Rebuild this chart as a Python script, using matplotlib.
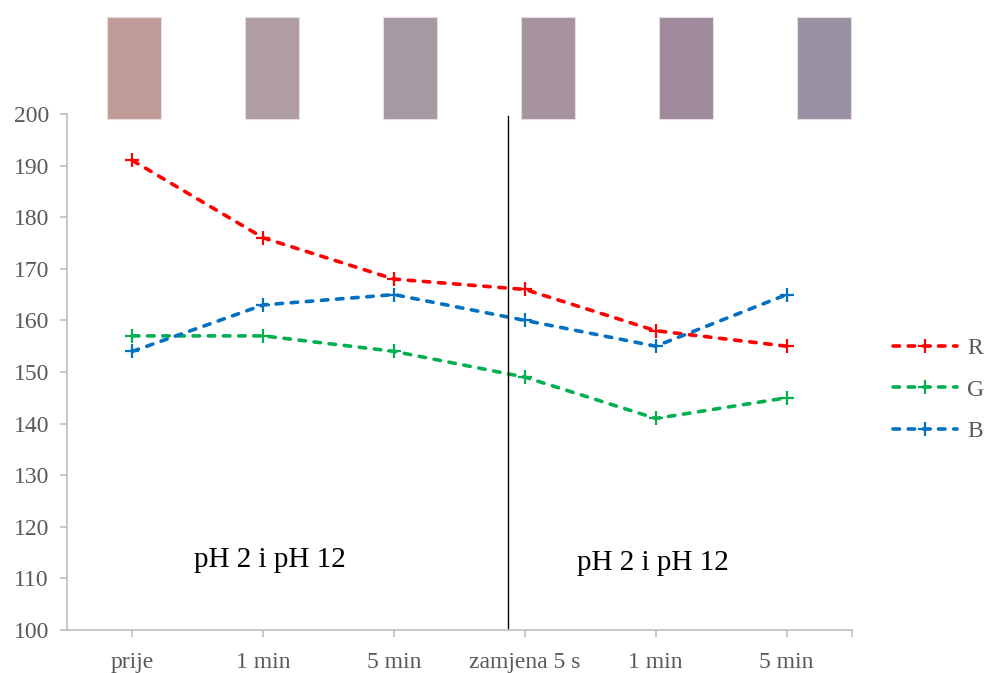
import matplotlib.pyplot as plt
import matplotlib.patches as patches

categories = ['prije', '1 min', '5 min', 'zamjena 5 s', '1 min', '5 min']
r_vals = [191, 176, 168, 166, 158, 155]
g_vals = [157, 157, 154, 149, 141, 145]
b_vals = [154, 163, 165, 160, 155, 165]
series_names = ['R', 'G', 'B']
series_colors = ['#FF0000', '#00B050', '#0070C0']
swatch_colors = ['#C09C99', '#B09CA3', '#A799A4', '#A6929F', '#9E8A9B', '#9A90A3']
phase_labels = ['pH 2 i pH 12', 'pH 2 i pH 12']

plt.rcParams['font.family'] = ['Liberation Serif', 'DejaVu Serif']

W, H = 987, 673
fig = plt.figure(figsize=(W / 100, H / 100), dpi=100)
ax = fig.add_axes([67 / W, (H - 630) / H, (852 - 67) / W, (630 - 114) / H])

x = list(range(len(categories)))
for vals, name, col in zip([r_vals, g_vals, b_vals], series_names, series_colors):
    ax.plot(x, vals, color=col, linestyle=(0, (1.8, 2.4)), linewidth=2.6,
            dash_capstyle='round', marker='+', markersize=10, markeredgewidth=1.6,
            label=name)

ax.set_xlim(-0.5, 5.5)
ax.set_ylim(100, 200)
ax.set_yticks(range(100, 201, 10))
ax.set_xticks(x)
ax.set_xticklabels(categories)
ax.set_xticks([5.5], minor=True)

for s in ['top', 'right']:
    ax.spines[s].set_visible(False)
for s in ['left', 'bottom']:
    ax.spines[s].set_color('#BFBFBF')
    ax.spines[s].set_linewidth(1.2)
ax.tick_params(axis='both', which='both', colors='#BFBFBF', length=5, width=1.2,
               labelcolor='#595959', labelsize=17)
ax.tick_params(axis='x', pad=11)
ax.tick_params(axis='y', pad=8)

# separator between the two phases
ax.axvline(2.87, ymin=0.004, ymax=0.996, color='black', linewidth=1)

ax.text(1.05, 113.5, phase_labels[0], fontsize=21, ha='center', va='center', color='black')
ax.text(3.98, 113, phase_labels[1], fontsize=21, ha='center', va='center', color='black')

# colour swatches above the plot
for i, c in enumerate(swatch_colors):
    cx = 134 + 138 * i
    fig.patches.append(patches.Rectangle(((cx - 27) / W, (H - 119) / H), 54 / W, 102 / H,
                                         transform=fig.transFigure, facecolor=c,
                                         edgecolor='#E6DCE2', linewidth=0.8))

leg = fig.legend(loc='center left', bbox_to_anchor=(893 / W, (H - 390) / H), frameon=False,
                 fontsize=17, handlelength=2.7, labelspacing=0.85, handletextpad=0.45,
                 borderaxespad=0, borderpad=0, labelcolor='#595959')

fig.savefig('out.png', dpi=100)
